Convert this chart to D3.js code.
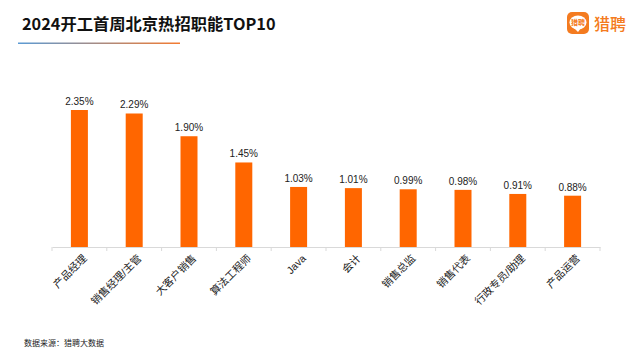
<!DOCTYPE html>
<html><head><meta charset="utf-8">
<script src="https://cdn.jsdelivr.net/npm/d3@7/dist/d3.min.js"></script>
<style>html,body{margin:0;padding:0;background:#fff}svg{display:block}text{font-family:"Noto Sans CJK SC","Liberation Sans",sans-serif}text.val,text.cat{font-family:"Liberation Sans","Noto Sans CJK SC",sans-serif}</style>
</head><body><svg id="c" width="640" height="360"></svg>
<script>
const categories=["产品经理","销售经理/主管","大客户销售","算法工程师","Java","会计","销售总监","销售代表","行政专员/助理","产品运营"];
const values=[2.35,2.29,1.90,1.45,1.03,1.01,0.99,0.98,0.91,0.88];
const titleText="2024开工首周北京热招职能TOP10";
const sourceText="数据来源：猎聘大数据";
const logoText="猎聘";

const svg=d3.select("#c");
svg.append("rect").attr("width",640).attr("height",360).attr("fill","#fff");
const defs=svg.append("defs");
const g=defs.append("linearGradient").attr("id","ul");
g.append("stop").attr("offset","0").attr("stop-color","#5b9bd5");
g.append("stop").attr("offset","1").attr("stop-color","#f47b30");

svg.append("text").attr("x",22).attr("y",30).attr("font-size",16.3).attr("font-weight",700).attr("fill","#111").text(titleText);
svg.append("rect").attr("x",18).attr("y",42.5).attr("width",162).attr("height",1.5).attr("fill","url(#ul)");

// logo
const lg=svg.append("g");
lg.append("rect").attr("x",567).attr("y",12).attr("width",22).attr("height",22).attr("rx",5).attr("fill","#f47b20");
lg.append("ellipse").attr("cx",578).attr("cy",22.5).attr("rx",8.5).attr("ry",7).attr("fill","#fff");
lg.append("path").attr("d","M574 28 L578 32 L581 28 Z").attr("fill","#fff");
lg.append("text").attr("x",578).attr("y",25.3).attr("text-anchor","middle").attr("font-size",7).attr("font-weight",700).attr("fill","#f47b20").text(logoText);
lg.append("text").attr("x",594).attr("y",30).attr("font-size",16).attr("font-weight",500).attr("fill","#f47b20").text(logoText);

const x=d3.scaleBand().domain(categories).range([52,600]);
const y=d3.scaleLinear().domain([0,2.35]).range([247,110]);

svg.selectAll("rect.bar").data(values).join("rect").attr("class","bar")
 .attr("x",(d,i)=>x(categories[i])+x.bandwidth()/2-8.5).attr("width",17)
 .attr("y",d=>y(d)).attr("height",d=>247-y(d)).attr("fill","#ff6600");

svg.selectAll("text.val").data(values).join("text").attr("class","val")
 .attr("x",(d,i)=>x(categories[i])+x.bandwidth()/2).attr("y",d=>y(d)-5)
 .attr("text-anchor","middle").attr("font-size",10).attr("fill","#222").text(d=>d.toFixed(2)+"%");

const axis=d3.axisBottom(x).tickSize(0).tickFormat(()=>"");
const ag=svg.append("g").attr("transform","translate(0,247)").call(axis);
ag.select(".domain").attr("stroke","#d9d9d9");
const edges=categories.map(c=>x(c)).concat([600]);
ag.selectAll("line.edge").data(edges).join("line").attr("class","edge")
 .attr("x1",d=>d).attr("x2",d=>d).attr("y1",0).attr("y2",4).attr("stroke","#d9d9d9");

svg.selectAll("text.cat").data(categories).join("text").attr("class","cat")
 .attr("text-anchor","end").attr("font-size",10.5).attr("fill","#222")
 .attr("transform",d=>`translate(${x(d)+x.bandwidth()/2+8},259) rotate(-45)`)
 .text(d=>d);

svg.append("text").attr("x",24).attr("y",346).attr("font-size",8).attr("fill","#222").text(sourceText);
</script></body></html>
